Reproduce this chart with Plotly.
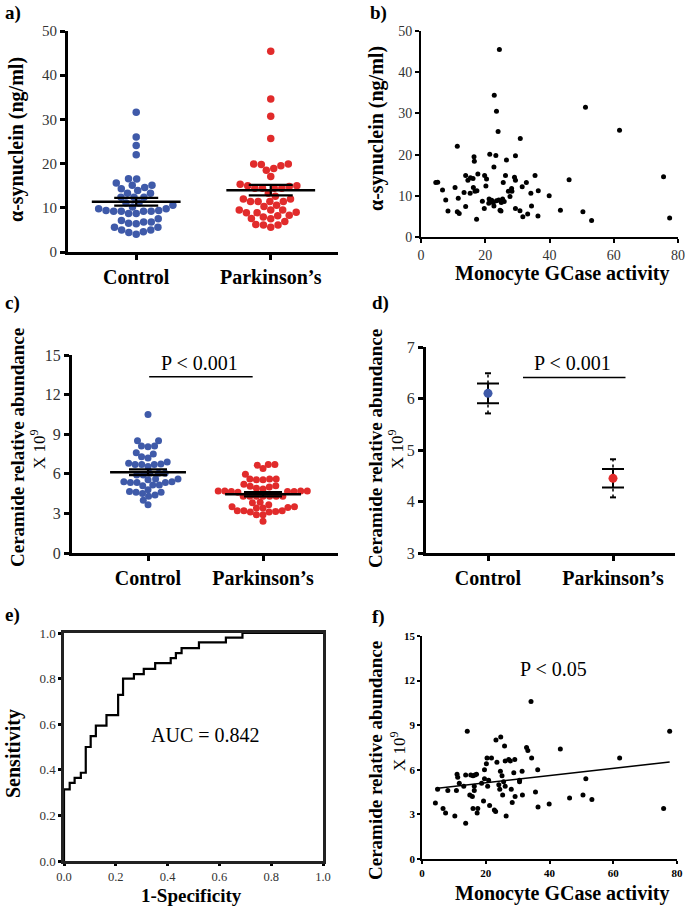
"""Six-panel figure: alpha-synuclein / ceramide by group, GCase scatter plots and ROC curve."""

import numpy as np
import plotly.graph_objects as go

BLUE = "#3f5aa9"
RED = "#e12b2b"
SERIF = "Liberation Serif"
W, H = 685, 906

GROUPS = ["Control", "Parkinson’s"]

# --- a) plasma alpha-synuclein (ng/ml) ---
asyn_control = [31.6, 26.0, 24.1, 22.0, 16.6, 16.5, 15.6, 15.1, 15.1, 14.6, 14.3,
                13.9, 13.3, 13.3, 12.4, 12.4, 12.4, 11.1, 11.1, 10.6, 10.2, 9.8,
                9.8, 9.4, 9.2, 9.2, 9.2, 9.2, 9.4, 8.7, 8.7, 7.5, 7.1, 6.8, 6.8,
                6.5, 6.4, 5.6, 5.6, 5.0, 5.0, 4.6, 4.4, 4.0]
asyn_pd = [45.4, 34.6, 30.7, 25.7, 19.9, 19.9, 19.8, 19.5, 18.9, 18.5, 17.1, 15.3,
           15.0, 15.0, 14.8, 14.4, 14.4, 14.4, 14.4, 13.3, 12.6, 12.0, 12.0, 11.4,
           11.4, 11.4, 11.4, 10.6, 10.3, 9.5, 9.5, 9.5, 9.0, 8.9, 8.9, 8.3, 8.2,
           7.9, 7.6, 7.5, 6.9, 6.2, 6.1, 6.1, 5.6]

# --- b) alpha-synuclein vs monocyte GCase activity ---
b_gcase = [4.6, 5.2, 6.7, 7.7, 8.4, 10.6, 11.3, 11.6, 11.3, 11.9, 13.4, 13.9, 13.9,
           14.6, 15.4, 16.2, 15.3, 16.5, 16.6, 16.3, 16.8, 17.4, 17.3, 17.7, 19.1,
           19.7, 19.8, 20.4, 20.2, 22.8, 21.4, 21.2, 21.1, 22.0, 22.5, 22.7, 22.7,
           23.3, 23.5, 24.0, 24.4, 23.5, 24.2, 24.6, 24.9, 25.0, 25.4, 25.6, 25.9,
           26.3, 26.6, 27.2, 27.7, 28.2, 28.3, 29.1, 29.4, 29.4, 29.4, 30.9, 30.8,
           31.5, 31.7, 32.8, 33.2, 34.2, 34.4, 35.5, 36.5, 36.4, 39.9, 43.4, 46.1,
           50.4, 51.2, 53.1, 61.8, 75.5, 77.4]
b_asyn = [13.2, 13.3, 11.4, 9.0, 6.3, 12.0, 22.0, 9.4, 6.1, 5.7, 10.8, 14.9, 7.4,
          13.8, 14.4, 14.2, 10.6, 19.5, 18.4, 12.0, 11.1, 11.2, 4.3, 15.3, 8.7,
          6.9, 14.9, 14.1, 12.4, 34.4, 20.1, 9.2, 8.2, 8.9, 8.3, 17.0, 7.5, 19.8,
          30.5, 25.6, 45.5, 8.8, 9.0, 6.5, 6.3, 8.4, 9.2, 13.2, 8.6, 14.9, 18.7,
          11.1, 9.8, 11.8, 11.1, 14.5, 13.8, 19.7, 6.9, 23.9, 6.4, 12.2, 4.9, 13.2,
          5.6, 10.6, 7.5, 14.9, 11.2, 5.1, 10.0, 6.5, 13.9, 6.1, 31.5, 4.0, 25.9,
          14.6, 4.6]

# --- c) ceramide relative abundance (x 10^9) ---
cer_control = [10.5, 8.5, 8.5, 8.1, 8.05, 8.1, 7.6, 7.5, 7.3, 7.2, 6.8, 6.7, 6.55,
               6.9, 6.7, 6.7, 6.75, 5.9, 6.05, 6.05, 6.05, 5.9, 5.55, 5.4, 5.35,
               5.35, 5.35, 5.4, 5.6, 5.6, 5.15, 5.1, 5.15, 4.6, 4.65, 4.6, 4.8,
               4.5, 4.3, 4.4, 4.0, 3.65]
cer_pd = [6.4, 6.7, 6.65, 6.7, 5.97, 5.55, 5.6, 5.6, 5.6, 5.55, 5.1, 5.0, 4.85,
          4.9, 5.05, 5.2, 4.7, 4.65, 4.65, 4.7, 4.7, 4.7, 4.6, 4.65, 4.3, 4.3, 4.3,
          4.3, 4.3, 4.3, 4.3, 3.8, 3.65, 3.5, 3.4, 3.4, 3.45, 3.5, 3.85, 3.2, 3.15,
          3.1, 3.2, 3.2, 3.1, 2.9, 2.9, 2.4]

# --- d) ceramide group mean, inner (solid) and outer (dotted) intervals ---
d_mean = [6.10, 4.45]
d_inner = [0.19, 0.18]
d_outer = [0.39, 0.37]

# --- e) ROC curve ---
roc_fpr = [0, 0, 0.022, 0.041, 0.065, 0.084, 0.103, 0.123, 0.164, 0.209, 0.228,
           0.27, 0.308, 0.352, 0.412, 0.432, 0.454, 0.521, 0.625, 0.689, 1.0]
roc_tpr = [0, 0.314, 0.343, 0.365, 0.387, 0.5, 0.548, 0.594, 0.64, 0.729, 0.8,
           0.82, 0.843, 0.868, 0.89, 0.912, 0.934, 0.959, 0.98, 1.0, 1.0]

# --- f) ceramide vs monocyte GCase activity ---
f_gcase = [4.2, 4.9, 6.6, 7.4, 8.1, 10.3, 10.8, 11.0, 11.2, 11.7, 13.1, 13.7, 13.7,
           14.2, 15.0, 15.3, 16.0, 15.8, 16.0, 16.4, 16.4, 16.6, 17.1, 17.5, 17.3,
           18.7, 19.3, 19.6, 19.6, 20.2, 20.4, 20.6, 20.9, 21.2, 21.8, 22.7, 23.1,
           23.2, 23.5, 24.1, 24.4, 24.6, 24.7, 25.1, 25.3, 25.6, 25.9, 26.1, 26.4,
           26.1, 27.2, 27.7, 28.0, 28.3, 28.8, 29.1, 29.2, 30.6, 30.6, 31.4, 31.5,
           32.8, 33.2, 34.2, 34.4, 35.6, 36.3, 36.4, 39.9, 43.4, 46.3, 50.5, 51.4,
           53.3, 62.0, 75.8, 77.7]
f_cer = [3.77, 4.7, 3.4, 3.1, 4.6, 2.9, 4.6, 5.7, 5.5, 5.1, 4.9, 5.65, 2.4, 8.6,
         4.3, 5.65, 5.6, 4.2, 3.4, 4.6, 4.9, 5.65, 5.7, 3.4, 3.1, 5.1, 3.9, 5.4,
         6.0, 6.4, 6.8, 4.9, 5.3, 3.6, 6.8, 3.3, 3.2, 8.0, 6.5, 5.0, 4.7, 5.9, 8.2,
         5.6, 4.3, 5.2, 7.6, 6.6, 2.9, 4.9, 6.7, 6.6, 4.7, 3.8, 5.8, 6.7, 4.2, 5.3,
         5.2, 5.9, 4.3, 7.5, 7.3, 10.6, 6.8, 4.5, 6.0, 3.5, 3.7, 7.4, 4.1, 4.3, 5.4,
         4.0, 6.8, 3.4, 8.6]


def swarm(values, y_scale, x_scale, diam):
    """Beeswarm x offsets (data units) so that dots of `diam` px do not overlap."""
    vals = np.asarray(values, dtype=float)
    offs = np.zeros(len(vals))
    placed = []
    for i in np.argsort(vals, kind="stable"):
        y = vals[i] * y_scale
        cands = [0.0]
        for px, py in placed:
            dy = y - py
            if abs(dy) < diam:
                dx = np.sqrt(diam ** 2 - dy ** 2)
                cands += [px + dx, px - dx]
        cands.sort(key=lambda c: (round(abs(c), 6), c))
        for c in cands:
            if all((c - px) ** 2 + (y - py) ** 2 >= diam ** 2 - 1e-6 for px, py in placed):
                offs[i] = c / x_scale
                placed.append((c, y))
                break
    return offs


def dom_x(p0, p1):
    return [p0 / W, p1 / W]


def dom_y(top, bottom):
    return [1 - bottom / H, 1 - top / H]


def axis(lw, ticklen, size, color="#333", bold=False, **kw):
    d = dict(showline=True, linecolor="black", linewidth=lw, ticks="outside",
             ticklen=ticklen, tickwidth=lw, tickcolor="black", showgrid=False,
             zeroline=False, fixedrange=True, automargin=False,
             ticklabeloverflow="allow",
             tickfont=dict(family=SERIF, size=size, color=color,
                           weight="bold" if bold else "normal"))
    d.update(kw)
    return d


fig = go.Figure()


def group_panel(ax, series, y_scale, x_scale, diam, msize, half, cap):
    xa, ya = f"x{ax}", f"y{ax}"
    for gi, (vals, col) in enumerate(series):
        offs = swarm(vals, y_scale, x_scale, diam)
        fig.add_trace(go.Scatter(x=gi + offs, y=vals, mode="markers", xaxis=xa, yaxis=ya,
                                 marker=dict(size=msize, color=col), hoverinfo="y"))
        m = float(np.mean(vals))
        sem = float(np.std(vals, ddof=1) / np.sqrt(len(vals)))
        fig.add_trace(go.Scatter(x=[gi - half, gi + half], y=[m, m], mode="lines",
                                 xaxis=xa, yaxis=ya, line=dict(color="black", width=2.5),
                                 hoverinfo="skip"))
        fig.add_trace(go.Scatter(x=[gi], y=[m], mode="markers", xaxis=xa, yaxis=ya,
                                 marker=dict(size=1, color="rgba(0,0,0,0)"),
                                 error_y=dict(type="data", array=[sem], color="black",
                                              thickness=2.2, width=cap),
                                 hoverinfo="skip"))


# a) and c): dot plots with mean +/- SEM
group_panel(1, [(asyn_control, BLUE), (asyn_pd, RED)], 221 / 50, 134, 7.6, 7.5, 0.33, 22)
group_panel(3, [(cer_control, BLUE), (cer_pd, RED)], 198 / 15, 115, 6.6, 7, 0.33, 19)

# b) scatter
fig.add_trace(go.Scatter(x=b_gcase, y=b_asyn, mode="markers", xaxis="x2", yaxis="y2",
                         marker=dict(size=5, color="black")))

# d) means with two intervals
for gi, col in enumerate([BLUE, RED]):
    m, inner, outer = d_mean[gi], d_inner[gi], d_outer[gi]
    fig.add_trace(go.Scatter(x=[gi, gi], y=[m - outer, m + outer], mode="lines",
                             xaxis="x4", yaxis="y4",
                             line=dict(color="black", width=1.5, dash="dot"), hoverinfo="skip"))
    fig.add_trace(go.Scatter(x=[gi - 0.024, gi + 0.024, None, gi - 0.024, gi + 0.024],
                             y=[m + outer, m + outer, None, m - outer, m - outer],
                             mode="lines", xaxis="x4", yaxis="y4",
                             line=dict(color="black", width=2), hoverinfo="skip"))
    fig.add_trace(go.Scatter(x=[gi], y=[m], mode="markers", xaxis="x4", yaxis="y4",
                             marker=dict(size=9, color=col),
                             error_y=dict(type="data", array=[inner], color="black",
                                          thickness=2, width=11)))

# e) ROC
fig.add_trace(go.Scatter(x=roc_fpr, y=roc_tpr, mode="lines", line_shape="hv",
                         xaxis="x5", yaxis="y5", line=dict(color="black", width=2.2)))

# f) scatter + linear fit
fig.add_trace(go.Scatter(x=f_gcase, y=f_cer, mode="markers", xaxis="x6", yaxis="y6",
                         marker=dict(size=5, color="black")))
slope, icpt = np.polyfit(f_gcase, f_cer, 1)
fx = np.array([min(f_gcase), max(f_gcase)])
fig.add_trace(go.Scatter(x=fx, y=slope * fx + icpt, mode="lines", xaxis="x6", yaxis="y6",
                         line=dict(color="black", width=1.5), hoverinfo="skip"))

cat_ticks = dict(tickmode="array", tickvals=[0, 1], ticktext=GROUPS)

fig.update_layout(
    width=W, height=H, margin=dict(l=0, r=0, t=0, b=0),
    paper_bgcolor="white", plot_bgcolor="white", showlegend=False,
    font=dict(family=SERIF, color="black"),
    # a
    xaxis=axis(3, 5, 20, "black", True, domain=dom_x(68, 338), range=[-0.507, 1.5],
               anchor="y", **cat_ticks),
    yaxis=axis(3, 5, 15, domain=dom_y(31, 252), range=[0, 50], dtick=10, anchor="x"),
    # b
    xaxis2=axis(1.8, 4, 14, domain=dom_x(421, 678), range=[0, 80], dtick=20, anchor="y2"),
    yaxis2=axis(1.8, 4, 14, domain=dom_y(31, 237), range=[0, 50], dtick=10, anchor="x2"),
    # c
    xaxis3=axis(3, 5, 20, "black", True, domain=dom_x(72, 338), range=[-0.661, 1.652],
                anchor="y3", **cat_ticks),
    yaxis3=axis(3, 5, 16, domain=dom_y(355, 553), range=[0, 15], dtick=3, anchor="x3"),
    # d
    xaxis4=axis(3, 5, 20, "black", True, domain=dom_x(426, 675), range=[-0.496, 1.496],
                anchor="y4", **cat_ticks),
    yaxis4=axis(3, 5, 16, domain=dom_y(347, 553), range=[3, 7], dtick=1, anchor="x4"),
    # e
    xaxis5=axis(2.5, 2, 12.5, domain=dom_x(64, 323), range=[0, 1], dtick=0.2,
                tickformat=".1f", mirror=True, linecolor="#222", anchor="y5"),
    yaxis5=axis(2.5, 3, 13, domain=dom_y(633, 861), range=[0, 1], dtick=0.2,
                tickformat=".1f", mirror=True, linecolor="#222", anchor="x5"),
    # f
    xaxis6=axis(1.5, 3, 11, "black", True, domain=dom_x(422, 677), range=[0, 80],
                dtick=20, anchor="y6"),
    yaxis6=axis(1.5, 3, 11, "black", True, domain=dom_y(636, 859), range=[0, 15],
                dtick=3, anchor="x6"),
)

# p-value bars
fig.add_shape(type="line", xref="x3", yref="y3", x0=0.01, x1=0.91, y0=13.36, y1=13.36,
              line=dict(color="black", width=1.5))
fig.add_shape(type="line", xref="x4", yref="y4", x0=0.28, x1=1.10, y0=6.41, y1=6.41,
              line=dict(color="black", width=1.5))

notes = [
    # (text, x px, y px, size, angle, anchor)
    ("<b>a)</b>", 3, 13, 19, 0, "left"),
    ("<b>b)</b>", 368, 13, 19, 0, "left"),
    ("<b>c)</b>", 3, 303, 19, 0, "left"),
    ("<b>d)</b>", 370, 303, 19, 0, "left"),
    ("<b>e)</b>", 3, 615, 19, 0, "left"),
    ("<b>f)</b>", 370, 617, 19, 0, "left"),
    ("<b>α-synuclein (ng/ml)</b>", 16, 140, 20, -90, "center"),
    ("<b>α-synuclein (ng/ml)</b>", 377, 129, 20, -90, "center"),
    ("<b>Monocyte GCase activity</b>", 562, 273, 20, 0, "center"),
    ("<b>Ceramide relative abundance</b>", 17, 448, 19, -90, "center"),
    ("X 10<sup>9</sup>", 38, 449, 17, -90, "center"),
    ("<b>Ceramide relative abundance</b>", 375, 449, 19, -90, "center"),
    ("X 10<sup>9</sup>", 396, 449, 17, -90, "center"),
    ("<b>Sensitivity</b>", 13, 754, 20, -90, "center"),
    ("<b>1-Specificity</b>", 191, 895, 19, 0, "center"),
    ("<b>Ceramide relative abundance</b>", 375, 761, 19, -90, "center"),
    ("X 10<sup>9</sup>", 398, 751, 17, -90, "center"),
    ("<b>Monocyte GCase activity</b>", 562, 893, 20, 0, "center"),
    ("P < 0.001", 200, 363, 20, 0, "center"),
    ("P < 0.001", 572, 363, 20, 0, "center"),
    ("AUC = 0.842", 205, 735, 20, 0, "center"),
    ("P < 0.05", 553, 669, 20, 0, "center"),
]
for text, px, py, size, ang, anc in notes:
    fig.add_annotation(text=text, x=px / W, y=1 - py / H, xref="paper", yref="paper",
                       showarrow=False, textangle=ang, xanchor=anc, yanchor="middle",
                       font=dict(family=SERIF, size=size, color="black"))

# page body margin would push the fixed-size figure past the window edges
fig.write_html("out.html", config={"displayModeBar": False},
               post_script="document.body.style.margin='0';")
